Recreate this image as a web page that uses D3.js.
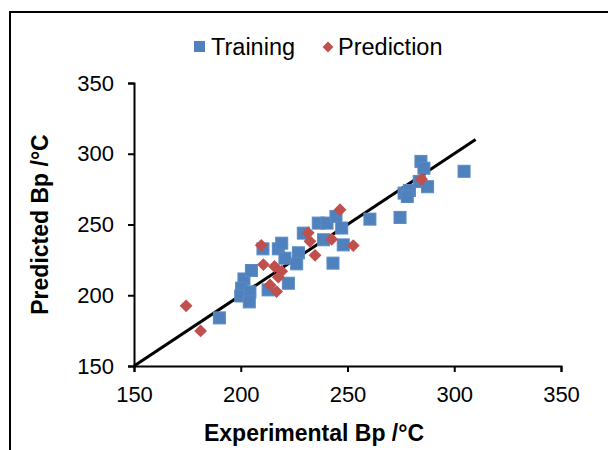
<!DOCTYPE html>
<html>
<head>
<meta charset="utf-8">
<script src="https://cdnjs.cloudflare.com/ajax/libs/d3/7.8.5/d3.min.js"></script>
<style>
  body { margin: 0; background: #fff; }
  svg { display: block; font-family: "Liberation Sans", Arial, sans-serif; }
</style>
</head>
<body>
<svg id="chart" width="608" height="450"></svg>
<script>
// training set: experimental vs predicted boiling point
const trainX = [190, 201.5, 200.4, 200, 204.3, 204, 205, 210.4, 217.6, 219.2, 220.7, 227, 226.2, 222.3, 212.8,
  229.3, 236.3, 240.4, 244.6, 247.3, 238.8, 248, 243.2, 260.5, 274.6, 276.5, 279, 278, 284.4, 285.8, 283.6, 287.5, 304.6];
const trainY = [184, 211.5, 205, 199.5, 202.4, 195.3, 217.5, 232.8, 232.8, 236.8, 226.2, 230, 222.2, 208.5, 203.8,
  243.9, 251, 251, 255.7, 247.5, 239.2, 235.6, 222.7, 253.8, 255, 272.2, 274, 269.8, 294.6, 289.8, 280.4, 276.7, 287.6];

// prediction set
const predX = [174.4, 181.2, 209.6, 210.6, 215.8, 219.2, 217.6, 213.7, 216.8, 231.6, 232.4, 234.8, 242.6, 246.5, 252.7, 284.7];
const predY = [192.5, 174.8, 235.3, 221.7, 220.3, 217, 212.8, 207.3, 202.6, 244.1, 238.1, 228.2, 239.5, 260.4, 235.1, 282];

const ticks = [150, 200, 250, 300, 350];
const fitLine = [150, 310]; // y = x

const svg = d3.select("#chart");
const margin = { left: 134, right: 47, top: 83, bottom: 84 };
const width = 608 - margin.left - margin.right;
const height = 450 - margin.top - margin.bottom;

// outer frame (runs off the right and bottom edges like the original)
svg.append("rect")
  .attr("x", 10).attr("y", 12)
  .attr("width", 640).attr("height", 480)
  .attr("fill", "none").attr("stroke", "#000").attr("stroke-width", 2);

const g = svg.append("g").attr("transform", `translate(${margin.left},${margin.top})`);

const x = d3.scaleLinear().domain([150, 350]).range([0, width]);
const y = d3.scaleLinear().domain([150, 350]).range([height, 0]);

const xAxis = g.append("g")
  .attr("transform", `translate(0,${height})`)
  .call(d3.axisBottom(x).tickValues(ticks).tickSize(6).tickPadding(14));
const yAxis = g.append("g")
  .call(d3.axisLeft(y).tickValues(ticks).tickSize(6).tickPadding(14));

[xAxis, yAxis].forEach(a => {
  a.select(".domain").attr("stroke", "#000").attr("stroke-width", 2);
  a.selectAll(".tick line").attr("stroke", "#000").attr("stroke-width", 2);
  a.selectAll(".tick text").attr("fill", "#000").style("font-size", "22px");
});

// y = x reference line
g.append("line")
  .attr("x1", x(fitLine[0])).attr("y1", y(fitLine[0]))
  .attr("x2", x(fitLine[1])).attr("y2", y(fitLine[1]))
  .attr("stroke", "#000").attr("stroke-width", 3);

const sq = 12;
g.selectAll(".train")
  .data(trainX.map((d, i) => [d, trainY[i]]))
  .enter().append("rect")
  .attr("class", "train")
  .attr("x", d => x(d[0]) - sq / 2)
  .attr("y", d => y(d[1]) - sq / 2)
  .attr("width", sq).attr("height", sq)
  .attr("fill", "#4F81BD").attr("stroke", "#5A8AC6").attr("stroke-width", 1);

const diamond = d3.symbol().type(d3.symbolDiamond2).size(105);
g.selectAll(".pred")
  .data(predX.map((d, i) => [d, predY[i]]))
  .enter().append("path")
  .attr("class", "pred")
  .attr("d", diamond)
  .attr("transform", d => `translate(${x(d[0])},${y(d[1])})`)
  .attr("fill", "#C0504D");

// axis titles
svg.append("text")
  .attr("x", 314).attr("y", 441)
  .attr("text-anchor", "middle")
  .style("font-size", "23px").style("font-weight", "bold")
  .text("Experimental Bp /°C");

svg.append("text")
  .attr("transform", `translate(48,${margin.top + height / 2}) rotate(-90)`)
  .attr("text-anchor", "middle")
  .style("font-size", "23px").style("font-weight", "bold")
  .text("Predicted Bp /°C");

// legend
const legend = svg.append("g").attr("transform", "translate(0,47)");
legend.append("rect").attr("x", 194).attr("y", -6).attr("width", 11).attr("height", 11).attr("fill", "#4F81BD");
legend.append("text").attr("x", 211).attr("y", 8).style("font-size", "23.5px").text("Training");
legend.append("path")
  .attr("d", d3.symbol().type(d3.symbolDiamond2).size(75))
  .attr("transform", "translate(328,0)")
  .attr("fill", "#C0504D");
legend.append("text").attr("x", 338).attr("y", 8).style("font-size", "23.5px").text("Prediction");
</script>
</body>
</html>
